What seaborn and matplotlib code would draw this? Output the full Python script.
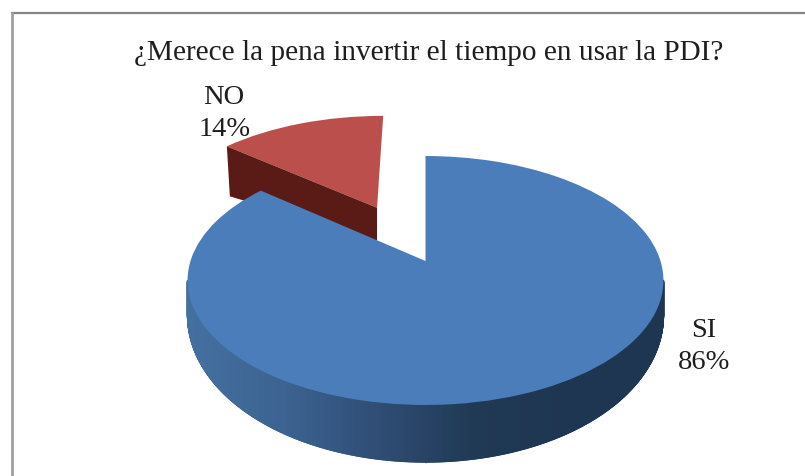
import numpy as np
import matplotlib
matplotlib.use("Agg")
import matplotlib.pyplot as plt
from matplotlib.transforms import Transform
from matplotlib.collections import PolyCollection
import seaborn as sns

categories = ["SI", "NO"]
shares = [86, 14]
percent_labels = ["86%", "14%"]
title = "¿Merece la pena invertir el tiempo en usar la PDI?"
explode = [0, 0.52]
top_colors = ["#4a7dba", "#bb4f4b"]
red_wall_color = "#5a1b17"
wall_colors = ["#44709f", "#3c6392", "#2f4d75", "#203955", "#1e3652", "#1e3652"]

sns.set_theme(style="white")
plt.rcParams["font.family"] = ["Liberation Serif", "DejaVu Serif"]

W, H = 805, 477
CX, AX, C, A, B = 425.5, 235.0, 0.1566, -80.4, 262.0


def project(X, Y):
    d = C * Y + 1
    return CX + AX * X / d, (A * Y + B) / d


class Tilt(Transform):
    input_dims = 2
    output_dims = 2
    has_inverse = False
    is_separable = False

    def transform_non_affine(self, values):
        v = np.asarray(values, dtype=float)
        x, y = project(v[:, 0], v[:, 1])
        return np.column_stack([x, y])


fig = plt.figure(figsize=(W / 100, H / 100), dpi=100, facecolor="white")
ax = fig.add_axes([0, 0, 1, 1])
wedges, _ = ax.pie(shares, explode=explode, startangle=90, counterclock=False,
                   colors=top_colors, radius=1, wedgeprops={"linewidth": 0})
ax.set_aspect("auto")
ax.set_xlim(0, W)
ax.set_ylim(H, 0)
ax.axis("off")

tilt = Tilt()
for w, z in zip(wedges, [5, 2]):
    w.set_transform(tilt + ax.transData)
    w.set_zorder(z)
    w.set_clip_on(False)

# Blue side wall, drawn below the rim from the same ellipse
theta = np.radians(np.linspace(189, 351, 900))
Xs, Ys = np.cos(theta), np.sin(theta)
px, py = project(Xs, Ys)
depth = 30 - 27 * Ys
pal = sns.blend_palette(wall_colors, n_colors=512)
polys, cols = [], []
ramp = (px - px.min()) / (px.max() - px.min())
for i in range(len(theta) - 1):
    polys.append([(px[i], py[i]), (px[i + 1], py[i + 1]),
                  (px[i + 1], py[i + 1] + depth[i + 1]), (px[i], py[i] + depth[i])])
    cols.append(pal[int(ramp[i] * (len(pal) - 1))])
ax.add_collection(PolyCollection(polys, facecolors=cols, edgecolors=cols,
                                 linewidths=1.0, zorder=4))

# Red slice: its visible wall runs along the edge from apex to rim
fracs = np.array(shares) / sum(shares)
a_start = np.radians(90 - 360 * fracs[0])
mid = a_start - np.pi * fracs[1]
ox, oy = explode[1] * np.cos(mid), explode[1] * np.sin(mid)
ax_x, ax_y = project(ox, oy)
rim_x, rim_y = project(ox + np.cos(a_start), oy + np.sin(a_start))
ax.fill([ax_x, rim_x, rim_x + 3, ax_x], [ax_y, rim_y, rim_y + 50, ax_y + 33],
        color=red_wall_color, lw=0, zorder=3)

# Chart frame
ax.plot([12, W], [14, 14], color="#858585", lw=1.6, zorder=6, clip_on=False)
ax.plot([12, 12], [14, H], color="#a0a0a0", lw=2.0, zorder=6, clip_on=False)

ax.text(429, 53, title, ha="center", va="center", fontsize=21.1, color="#1e1e1e")
ax.text(224, 97, categories[1], ha="center", va="center", fontsize=20.5, color="#1e1e1e", zorder=7)
ax.text(225, 130, percent_labels[1], ha="center", va="center", fontsize=20.5, color="#1e1e1e", zorder=7)
ax.text(704, 331, categories[0], ha="center", va="center", fontsize=20.5, color="#1e1e1e", zorder=7)
ax.text(704, 363, percent_labels[0], ha="center", va="center", fontsize=20.5, color="#1e1e1e", zorder=7)

fig.savefig("out.png", dpi=100, facecolor="white")
